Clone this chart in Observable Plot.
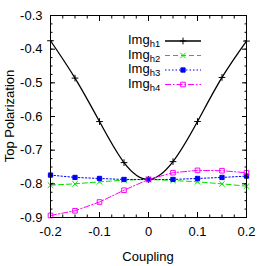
<!DOCTYPE html>
<html><head><meta charset="utf-8">
<script src="https://cdn.jsdelivr.net/npm/d3@7"></script>
<script src="https://cdn.jsdelivr.net/npm/@observablehq/plot@0.6"></script>
<style>body{margin:0;background:#fff;} svg{font-family:"Liberation Sans",Arial,sans-serif;}</style>
</head><body><div id="chart"></div>
<script>
const coupling = [-0.2, -0.15, -0.1, -0.05, 0, 0.05, 0.1, 0.15, 0.2];
const h1 = [-0.375, -0.486, -0.615, -0.737, -0.787, -0.734, -0.615, -0.484, -0.376];
const h2 = [-0.804, -0.800, -0.794, -0.789, -0.787, -0.790, -0.794, -0.800, -0.807];
const h3 = [-0.774, -0.781, -0.784, -0.787, -0.787, -0.787, -0.784, -0.781, -0.777];
const h4 = [-0.894, -0.880, -0.854, -0.819, -0.787, -0.767, -0.760, -0.761, -0.767];
const seriesNames = ["h1", "h2", "h3", "h4"];
const xTicks = [-0.2, -0.1, 0, 0.1, 0.2];
const yTicks = [-0.9, -0.8, -0.7, -0.6, -0.5, -0.4, -0.3];
const xMinor = d3.range(-8, 9).map(i => i * 0.025);
const yMinor = d3.range(0, 25).map(i => -0.9 + i * 0.025);

const styles = {
  h1: {stroke: "#000000", dash: null, symbol: "plus", fill: "none", width: 1.3, r: 2.3},
  h2: {stroke: "#00dd00", dash: "5,3", symbol: "times", fill: "none", width: 1, r: 2.6},
  h3: {stroke: "#0000ff", dash: "1.5,2", symbol: "square", fill: "#0000ff", width: 1, r: 2.4},
  h4: {stroke: "#ff00ff", dash: "6,2,1.5,2", symbol: "square", fill: "none", width: 1, r: 2.6}
};
const vals = {h1, h2, h3, h4};
const data = seriesNames.map(s => coupling.map((c, i) => ({x: c, y: vals[s][i]})));
const fmt = d => d === 0 ? "0" : d3.format(".1f")(d).replace("−", "-");

const marks = [];
seriesNames.forEach((s, k) => {
  const st = styles[s];
  marks.push(Plot.line(data[k], {x: "x", y: "y", stroke: st.stroke, strokeWidth: st.width,
    strokeDasharray: st.dash, curve: s === "h1" ? "natural" : "linear"}));
});
seriesNames.forEach((s, k) => {
  const st = styles[s];
  marks.push(Plot.dot(data[k], {x: "x", y: "y", symbol: () => st.symbol, stroke: st.stroke,
    fill: st.fill, r: st.r, strokeWidth: 1}));
});
marks.push(Plot.frame({stroke: "#000", strokeWidth: 1}));
marks.push(Plot.axisX({anchor: "bottom", ticks: xTicks, tickSize: -5, tickPadding: 14, tickFormat: fmt, fontSize: 13, label: null}));
marks.push(Plot.axisX({anchor: "top", ticks: xTicks, tickSize: -5, text: null, label: null}));
marks.push(Plot.axisX({anchor: "bottom", ticks: xMinor, tickSize: -2.5, text: null, label: null}));
marks.push(Plot.axisX({anchor: "top", ticks: xMinor, tickSize: -2.5, text: null, label: null}));
marks.push(Plot.axisY({anchor: "left", ticks: yTicks, tickSize: -5, tickPadding: 13, tickFormat: fmt, fontSize: 13, label: null}));
marks.push(Plot.axisY({anchor: "right", ticks: yTicks, tickSize: -5, text: null, label: null}));
marks.push(Plot.axisY({anchor: "left", ticks: yMinor, tickSize: -2.5, text: null, label: null}));
marks.push(Plot.axisY({anchor: "right", ticks: yMinor, tickSize: -2.5, text: null, label: null}));

const plot = Plot.plot({
  width: 266, height: 266,
  marginLeft: 50, marginRight: 20, marginTop: 15, marginBottom: 49,
  x: {domain: [-0.2, 0.2]},
  y: {domain: [-0.9, -0.3]},
  style: {fontFamily: "Liberation Sans, Arial, sans-serif", fontSize: "13px", color: "#000"},
  marks
});
document.getElementById("chart").appendChild(plot);

const svg = d3.select(plot);
svg.append("text").attr("x", 148).attr("y", 261).attr("text-anchor", "middle")
  .attr("font-size", 13).attr("fill", "#000").text("Coupling");
svg.append("text").attr("transform", "translate(14,116) rotate(-90)").attr("text-anchor", "middle")
  .attr("font-size", 13).attr("fill", "#000").text("Top Polarization");

const leg = svg.append("g");
seriesNames.forEach((s, k) => {
  const st = styles[s];
  const yy = 41 + k * 14.5;
  const t = leg.append("text").attr("x", 128).attr("y", yy + 3).attr("text-anchor", "start")
    .attr("font-size", 13).attr("fill", "#000");
  t.append("tspan").text("Img");
  t.append("tspan").attr("dy", 3).attr("font-size", 9.5).text(s);
  leg.append("line").attr("x1", 165).attr("x2", 201).attr("y1", yy).attr("y2", yy)
    .attr("stroke", st.stroke).attr("stroke-width", st.width).attr("stroke-dasharray", st.dash);
  const sym = d3.symbol().type(st.symbol === "plus" ? d3.symbolPlus : st.symbol === "times" ? d3.symbolTimes : d3.symbolSquare)
    .size(Math.PI * st.r ** 2);
  leg.append("path").attr("d", sym()).attr("transform", `translate(183,${yy})`)
    .attr("stroke", st.stroke).attr("fill", st.fill).attr("stroke-width", 1);
});
</script></body></html>
